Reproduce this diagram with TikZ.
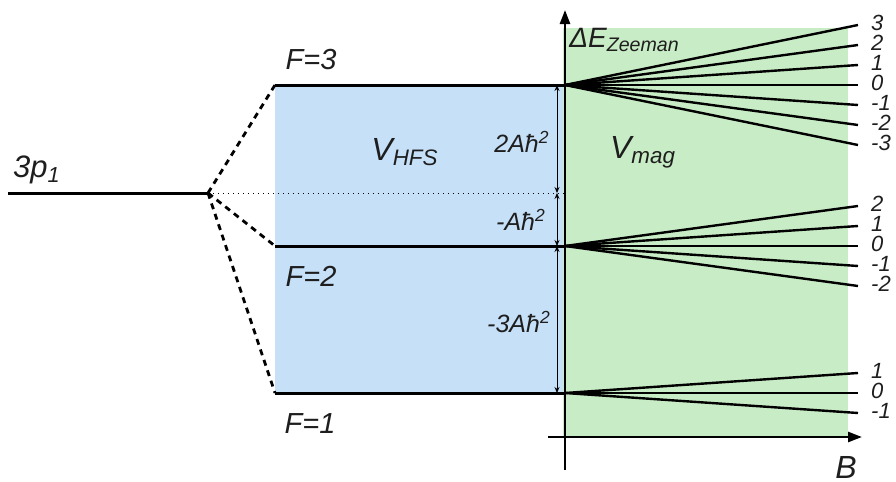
\documentclass[tikz,border=0pt]{standalone}
\usepackage{fontspec}
\setmainfont{Liberation Sans}
\usepackage{tikz}
\usetikzlibrary{positioning,arrows.meta,calc}
\definecolor{HFSblue}{HTML}{C6E0F8}
\definecolor{MAGgreen}{HTML}{C8ECC5}
\definecolor{ink}{HTML}{1E1E1E}

\begin{document}
\begin{tikzpicture}[
  x=0.5pt, y=-0.5pt,
  level/.style={line width=1.5pt},
  zline/.style={line width=1.2pt},
  split/.style={line width=1.4pt, dash pattern=on 3pt off 2.5pt},
  axis/.style={line width=1.3pt, -{Triangle[length=7pt,width=5pt]}},
  dim/.style={{Stealth[length=3pt,width=2.5pt]}-{Stealth[length=3pt,width=2.5pt]}, line width=0.4pt},
  lab/.style={font=\itshape\fontsize{14.5}{16}\selectfont, text=ink, inner sep=1pt},
  biglab/.style={font=\itshape\fontsize{16}{18}\selectfont, text=ink, inner sep=1pt},
  dimlab/.style={font=\itshape\fontsize{12.5}{14}\selectfont, text=ink, inner sep=1pt},
  mlab/.style={font=\itshape\fontsize{11}{11}\selectfont, text=ink, anchor=west, inner sep=0pt, xshift=6pt, yshift=1pt}
]
\useasboundingbox (0,0) rectangle (896,482);

% --- shaded regions ---
\fill[HFSblue] (275,85) rectangle (563,393);
\fill[MAGgreen] (563,28) rectangle (848,437);

% --- anchor points of the levels ---
\coordinate (p0) at (8,193);
\coordinate (s) at (208,193);
\coordinate (f3l) at (275,85);  \coordinate (f3) at (565,85);
\coordinate (f2l) at (275,246); \coordinate (f2) at (565,246);
\coordinate (f1l) at (275,393); \coordinate (f1) at (565,393);
\coordinate (c0) at (565,193);

% --- fine structure level and hyperfine splitting ---
\draw[level] (p0) -- (s);
\draw[split] (s) -- (f3l);
\draw[split] (s) -- (f2l);
\draw[split] (s) -- (f1l);
\draw[dotted, line width=0.5pt] (s) -- (c0);
\draw[level] (f3l) -- (f3);
\draw[level] (f2l) -- (f2);
\draw[level] (f1l) -- (f1);

% --- energy shifts ---
\coordinate (d3) at (557,85);
\coordinate (d0) at (557,193);
\coordinate (d2) at (557,246);
\coordinate (d1) at (557,393);
\draw[dim] (d3) -- (d0);
\draw[dim] (d0) -- (d2);
\draw[dim] (d2) -- (d1);

% --- Zeeman fans ---
\foreach \m in {3,2,1,0,-1,-2,-3}
  \draw[zline] (f3) -- (858,{85-20*\m}) coordinate (z3\m) node[mlab] {\m};
\foreach \m in {2,1,0,-1,-2}
  \draw[zline] (f2) -- (858,{246-20*\m}) coordinate (z2\m) node[mlab] {\m};
\foreach \m in {1,0,-1}
  \draw[zline] (f1) -- (858,{393-20*\m}) coordinate (z1\m) node[mlab] {\m};

% --- axes ---
\coordinate (ybot) at (565,470);
\coordinate (ytop) at (565,10);
\coordinate (xleft) at (548,437);
\coordinate (xright) at (862,437);
\draw[axis] (ybot) -- (ytop);
\draw[axis] (xleft) -- (xright);

% --- labels ---
\node[lab, font=\itshape\fontsize{15.5}{17}\selectfont] (p1lab) at (37,170) {3p\textsubscript{1}};
\node[lab] (f3lab) at (311,60) {F=3};
\node[lab] (f2lab) at (311,276) {F=2};
\node[lab] (f1lab) at (310,424) {F=1};
\node[biglab] (hfslab) at (405,152) {V\textsubscript{HFS}};
\node[biglab] (maglab) at (643,152) {V\textsubscript{mag}};
\node[dimlab] (s3lab) at (522,142) {2Aħ\textsuperscript{2}};
\node[dimlab] (s0lab) at (521,220) {-Aħ\textsuperscript{2}};
\node[dimlab] (s2lab) at (519,322) {-3Aħ\textsuperscript{2}};
\node[dimlab, font=\itshape\fontsize{14}{16}\selectfont, anchor=west] (zlab) at (567,40) {ΔE\textsubscript{Zeeman}};
\node[biglab] (blab) at (846,467) {B};
\end{tikzpicture}
\end{document}
